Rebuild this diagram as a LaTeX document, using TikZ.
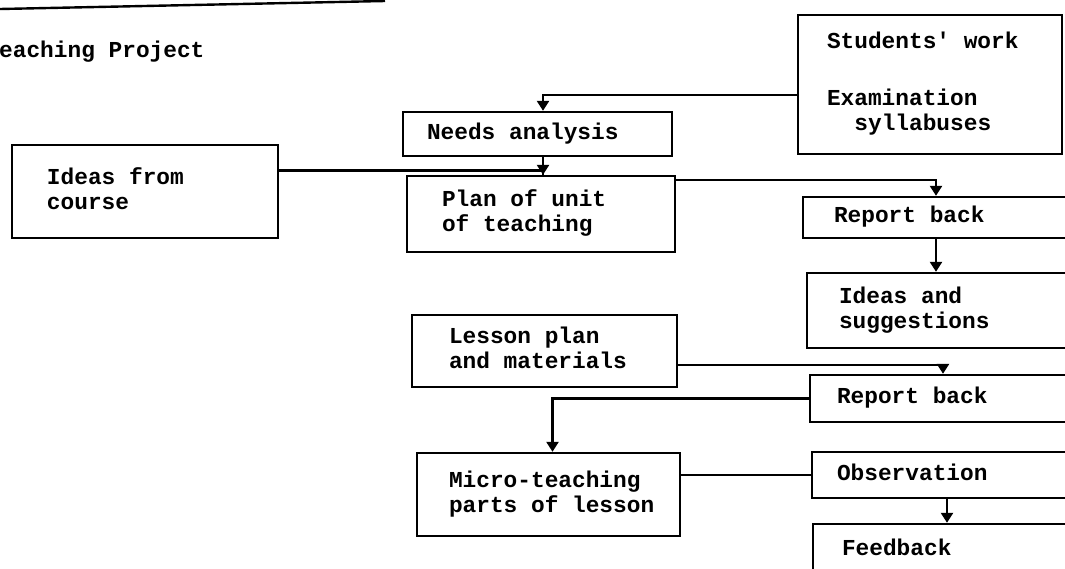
\documentclass[tikz,border=0pt]{standalone}
\usepackage{fontspec}
\newfontfamily\tw{Liberation Mono}
\usetikzlibrary{arrows.meta}
\newcommand\padtext[2]{\spaceskip=0pt\xspaceskip=0pt\relax\noindent\hspace*{#1pt}\begin{tabular}{@{}l@{}}#2\end{tabular}}
\tikzset{
  txt/.style={font={\tw\bfseries\fontsize{22.8}{25}\selectfont}},
  box/.style={txt, draw, line width=2.4pt, rectangle, inner sep=0pt},
  link/.style={line width=2.4pt},
  arr/.style={line width=2.4pt, -{Triangle[width=12pt,length=10pt]}},
}
\begin{document}
\begin{tikzpicture}[x=1pt,y=-1pt]
\clip (0,0) rectangle (1065,568);
\fill[white] (0,0) rectangle (1065,568);
% top rule and title
\draw[link] (0,9) -- (385,1);
\node[txt, anchor=base west, inner sep=0pt] (title) at (-1,57) {eaching Project};
% boxes
\node[box, minimum width=266pt, text width=266pt, minimum height=93pt] (ideas) at (145,191.5)
  {\padtext{35}{Ideas from\\course}};
\node[box, minimum width=269pt, text width=269pt, minimum height=44pt] (needs) at (537.5,134)
  {\padtext{24}{Needs analysis}};
\node[box, minimum width=268pt, text width=268pt, minimum height=76pt] (plan) at (541,214)
  {\padtext{35}{Plan of unit\\of teaching}};
\node[box, minimum width=264pt, text width=264pt, minimum height=139pt] (students) at (930,84.5)
  {\padtext{29}{Students' work\\[32pt]Examination\\\hspace*{27.4pt}syllabuses}};
\node[box, minimum width=266pt, text width=266pt, minimum height=41pt] (report1) at (936,217.5)
  {\padtext{31}{Report back}};
\node[box, minimum width=266pt, text width=266pt, minimum height=75pt] (ideas2) at (940,310.5)
  {\padtext{32}{Ideas and\\suggestions}};
\node[box, minimum width=265pt, text width=265pt, minimum height=72pt] (lesson) at (544.5,351)
  {\padtext{37}{Lesson plan\\and materials}};
\node[box, minimum width=266pt, text width=266pt, minimum height=47pt] (report2) at (943,398.5)
  {\padtext{27}{Report back}};
\node[box, minimum width=263pt, text width=263pt, minimum height=83pt] (micro) at (548.5,494.5)
  {\padtext{32}{Micro-teaching\\parts of lesson}};
\node[box, minimum width=270pt, text width=270pt, minimum height=46pt] (obs) at (947,475)
  {\padtext{25}{Observation}};
\node[box, minimum width=268pt, text width=268pt, minimum height=52pt] (feedback) at (947,550)
  {\padtext{29}{Feedback}};
% connectors
\draw[arr] ([yshift=-10.5pt]students.west) -| ([xshift=5.5pt]needs.north);
\draw[arr] ([xshift=5.5pt]needs.south) -- ([xshift=5.5pt]needs.south |- plan.north);
\draw[link] ([yshift=21pt]ideas.east) -| ([xshift=2pt]plan.north);
\draw[arr] ([yshift=34pt]plan.east) -| (report1.north);
\draw[arr] (report1.south) -- (report1.south |- ideas2.north);
\draw[arr] ([yshift=-14pt]lesson.east) -| (report2.north);
\draw[arr] (report2.west) -| ([xshift=4pt]micro.north);
\draw[link] (micro.east |- obs.west) -- (obs.west);
\draw[arr] (obs.south) -- (feedback.north);
\end{tikzpicture}
\end{document}
